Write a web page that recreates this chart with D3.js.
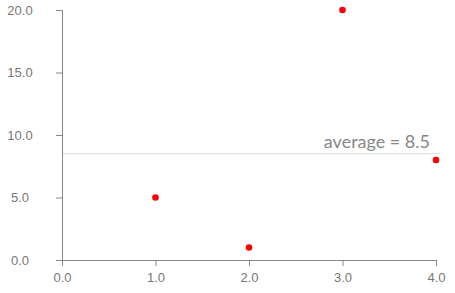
<!DOCTYPE html>
<html>
<head>
<meta charset="utf-8">
<style>
  body { margin: 0; background: #fff; }
  svg { display: block; font-family: 'Lato', 'Open Sans', sans-serif; }
  .axis path, .axis line { stroke: #888; }
  .axis text { fill: #777; font-size: 13px; }
</style>
</head>
<body>
<svg width="455" height="293"></svg>
<script src="https://d3js.org/d3.v7.min.js"></script>
<script>
// data
let xValues = [1, 2, 3, 4];
let yValues = [5, 1, 20, 8];
let xTicks = [0, 1, 2, 3, 4];
let yTicks = [0, 5, 10, 15, 20];
let averageLabel = "average = 8.5";

let width = 455, height = 293;
let margin = { top: 10, right: 19, bottom: 33, left: 62 };

let svg = d3.select("svg");

let x = d3.scaleLinear().domain([0, 4]).range([margin.left, width - margin.right]);
let y = d3.scaleLinear().domain([0, 20]).range([height - margin.bottom, margin.top]);

let avg = d3.mean(yValues);

// average line
svg.append("line")
    .attr("x1", x(0))
    .attr("x2", x(4) + 4)
    .attr("y1", y(avg))
    .attr("y2", y(avg))
    .style("stroke", "#ddd")
    .style("stroke-width", 1);

svg.append("text")
    .attr("x", x(4) - 6)
    .attr("y", y(avg) - 6)
    .attr("text-anchor", "end")
    .style("font-size", "18px")
    .style("fill", "#888")
    .text(averageLabel);

svg.append("g")
    .attr("class", "axis")
    .attr("transform", "translate(0," + y(0) + ")")
    .call(d3.axisBottom(x).tickValues(xTicks).tickFormat(d3.format(".1f")).tickPadding(7));

let yAxis = svg.append("g")
    .attr("class", "axis")
    .attr("transform", "translate(" + x(0) + ",0)")
    .call(d3.axisLeft(y).tickValues(yTicks).tickFormat(d3.format(".1f")));

// labels sit centred in the left margin
yAxis.selectAll(".tick text")
    .attr("x", 20 - margin.left)
    .attr("text-anchor", "middle");

svg.selectAll(".dot")
    .data(xValues.map((d, i) => ({ x: d, y: yValues[i] })))
    .join("circle")
    .attr("class", "dot")
    .attr("cx", d => x(d.x))
    .attr("cy", d => y(d.y))
    .attr("r", 3.3)
    .style("fill", "#ff0000");
</script>
</body>
</html>
